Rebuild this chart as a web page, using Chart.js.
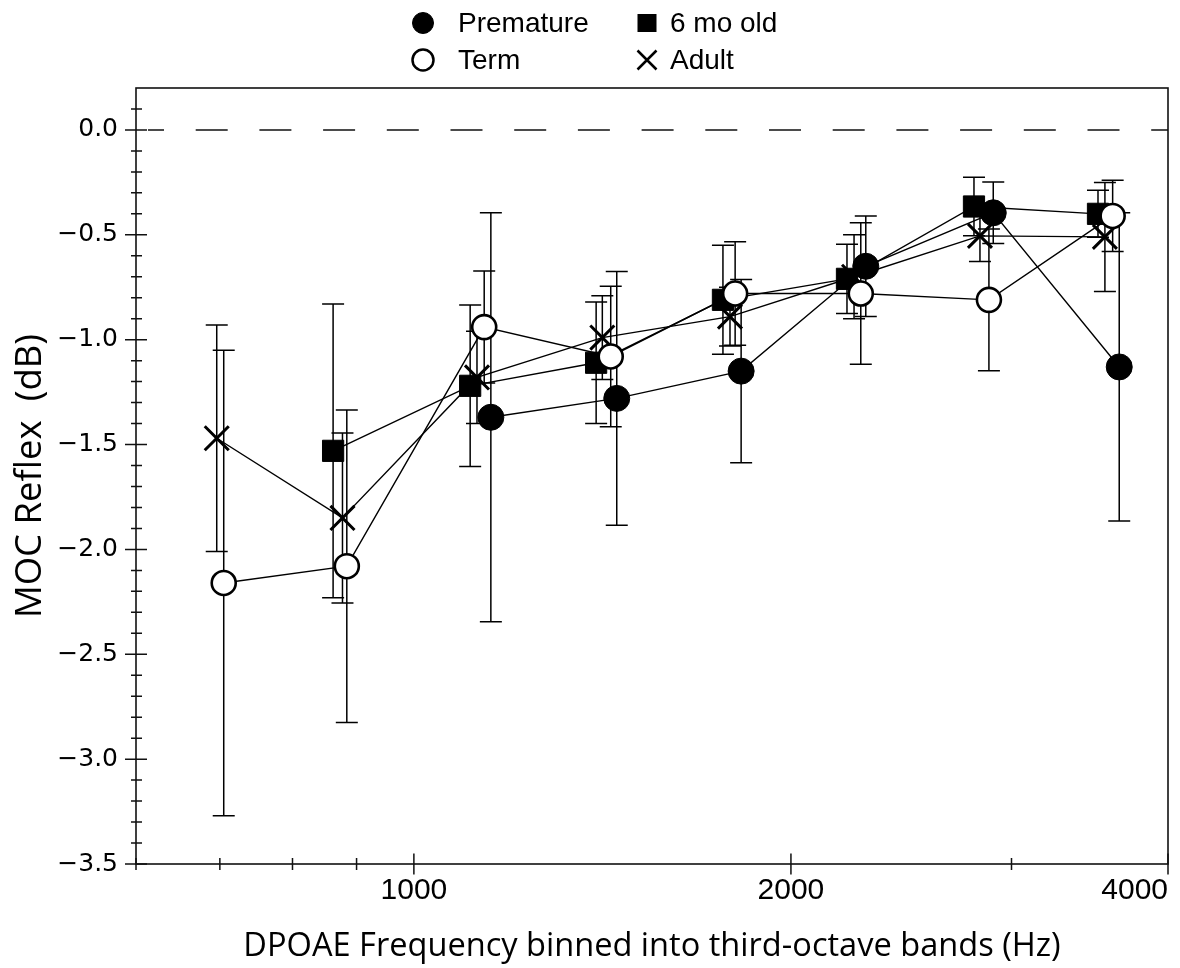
<!DOCTYPE html>
<html>
<head>
<meta charset="utf-8">
<script src="https://cdn.jsdelivr.net/npm/chart.js@4.4.1/dist/chart.umd.min.js"></script>
<style>
  html, body { margin: 0; padding: 0; background: #fff; }
  #wrap { width: 1180px; height: 968px; position: relative; }
</style>
</head>
<body>
<div id="wrap"><canvas id="c" width="1180" height="968"></canvas></div>
<script>
// ---- data ----
const seriesNames = ['Premature', 'Term', '6 mo old', 'Adult'];

const freqPremature = [1152, 1452, 1825, 2295, 2901, 3657];
const mocPremature  = [-1.37, -1.28, -1.15, -0.65, -0.395, -1.13];
const errPremature  = [0.975, 0.605, 0.437, 0.24, 0.147, 0.735];

const freqTerm = [705, 884, 1138, 1436, 1805, 2274, 2878, 3613];
const mocTerm  = [-2.16, -2.08, -0.94, -1.08, -0.78, -0.78, -0.81, -0.41];
const errTerm  = [1.11, 0.745, 0.267, 0.335, 0.247, 0.337, 0.338, 0.17];

const freq6mo = [862, 1109, 1398, 1765, 2217, 2800, 3517];
const moc6mo  = [-1.53, -1.22, -1.11, -0.81, -0.71, -0.365, -0.40];
const err6mo  = [0.70, 0.385, 0.29, 0.26, 0.165, 0.14, 0.112];

const freqAdult = [696, 877, 1123, 1414, 1788, 2246, 2831, 3562];
const mocAdult  = [-1.47, -1.85, -1.18, -0.99, -0.89, -0.70, -0.505, -0.51];
const errAdult  = [0.54, 0.405, 0.22, 0.20, 0.14, 0.20, 0.122, 0.26];

const xTickValues = [600, 700, 800, 900, 1000, 2000, 3000, 4000];
const xTickLabels = [1000, 2000, 4000];
const yMajorTicks = [-3.5, -3.0, -2.5, -2.0, -1.5, -1.0, -0.5, 0.0];
const zeroLevel = 0;

const xTitle = 'DPOAE Frequency binned into third-octave bands (Hz)';
const yTitle = 'MOC Reflex  (dB)';

// ---- helpers ----
function pts(xs, ys) { return xs.map((x, i) => ({ x: x, y: ys[i] })); }
const yMinorTicks = [];
for (let k = -34; k <= 1; k++) { if (k % 5 !== 0) yMinorTicks.push(k / 10); }

const datasets = [
  { label: seriesNames[0], data: pts(freqPremature, mocPremature), errors: errPremature,
    pointStyle: 'circle', pointRadius: 13, pointBackgroundColor: '#000', pointBorderColor: '#000',
    pointBorderWidth: 1, order: 1 },
  { label: seriesNames[1], data: pts(freqTerm, mocTerm), errors: errTerm,
    pointStyle: 'circle', pointRadius: 12, pointBackgroundColor: '#fff', pointBorderColor: '#000',
    pointBorderWidth: 2.6, order: 0 },
  { label: seriesNames[2], data: pts(freq6mo, moc6mo), errors: err6mo,
    pointStyle: 'rect', pointRadius: 15, pointBackgroundColor: '#000', pointBorderColor: '#000',
    pointBorderWidth: 1, order: 2 },
  { label: seriesNames[3], data: pts(freqAdult, mocAdult), errors: errAdult,
    pointStyle: 'crossRot', pointRadius: 17, pointBackgroundColor: '#000', pointBorderColor: '#000',
    pointBorderWidth: 3, order: 3 }
].map(d => Object.assign({ showLine: true, borderColor: '#000', borderWidth: 1.4,
  backgroundColor: '#000', fill: false, tension: 0, pointHoverRadius: 0 }, d));

// legend grid: column marker x, text x, row y
const legendLayout = [
  { ds: 0, x: 423, tx: 458, y: 23 }, { ds: 2, x: 647, tx: 670, y: 23 },
  { ds: 1, x: 423, tx: 458, y: 60 }, { ds: 3, x: 647, tx: 670, y: 60 }
];

const decorPlugin = {
  id: 'decor',
  beforeDatasetsDraw(chart) {
    const { ctx, chartArea: ca, scales: { x, y } } = chart;
    ctx.save();
    // zero reference line
    const y0 = y.getPixelForValue(zeroLevel);
    ctx.strokeStyle = '#111';
    ctx.lineWidth = 1.5;
    ctx.setLineDash([32, 31.7]);
    ctx.lineDashOffset = 16;
    ctx.beginPath();
    ctx.moveTo(ca.left + 12, y0);
    ctx.lineTo(ca.right, y0);
    ctx.stroke();
    ctx.setLineDash([]);
    // error bars
    ctx.strokeStyle = '#000';
    ctx.lineWidth = 1.5;
    chart.data.datasets.forEach((ds, i) => {
      const meta = chart.getDatasetMeta(i);
      meta.data.forEach((el, j) => {
        const v = ds.data[j].y, e = ds.errors[j];
        const px = el.x;
        const yt = y.getPixelForValue(v + e), yb = y.getPixelForValue(v - e);
        ctx.beginPath();
        ctx.moveTo(px, yt); ctx.lineTo(px, yb);
        ctx.moveTo(px - 11, yt); ctx.lineTo(px + 11, yt);
        ctx.moveTo(px - 11, yb); ctx.lineTo(px + 11, yb);
        ctx.stroke();
      });
    });
    ctx.restore();
  },
  afterDraw(chart) {
    const { ctx, chartArea: ca, scales: { x, y } } = chart;
    ctx.save();
    ctx.strokeStyle = '#111';
    ctx.lineWidth = 1.6;
    ctx.strokeRect(ca.left, ca.top, ca.right - ca.left, ca.bottom - ca.top);
    // y ticks (crossing the axis)
    ctx.lineWidth = 1.5;
    ctx.beginPath();
    yMajorTicks.forEach(v => { const p = y.getPixelForValue(v); ctx.moveTo(ca.left - 11, p); ctx.lineTo(ca.left + 11, p); });
    yMinorTicks.forEach(v => { const p = y.getPixelForValue(v); ctx.moveTo(ca.left - 5, p); ctx.lineTo(ca.left + 6, p); });
    // x ticks
    xTickValues.forEach(v => {
      const p = x.getPixelForValue(v);
      const major = xTickLabels.includes(v);
      const h = major ? 10.5 : 6;
      ctx.moveTo(p, ca.bottom - h); ctx.lineTo(p, ca.bottom + h);
    });
    ctx.stroke();
    // legend
    ctx.font = '28px "Liberation Sans", Arial, sans-serif';
    ctx.textBaseline = 'middle';
    legendLayout.forEach(item => {
      const ds = chart.data.datasets[item.ds];
      ctx.fillStyle = ds.pointBackgroundColor;
      ctx.strokeStyle = '#000';
      ctx.lineWidth = ds.pointStyle === 'circle' && ds.pointBackgroundColor === '#fff' ? 2.5 : 1;
      ctx.beginPath();
      if (ds.pointStyle === 'circle') {
        ctx.arc(item.x, item.y, 10.5, 0, Math.PI * 2); ctx.fill(); ctx.stroke();
      } else if (ds.pointStyle === 'rect') {
        ctx.fillRect(item.x - 9.5, item.y - 9, 19, 18);
      } else {
        const d = 9.5;
        ctx.lineWidth = 2.5;
        ctx.moveTo(item.x - d, item.y - d); ctx.lineTo(item.x + d, item.y + d);
        ctx.moveTo(item.x + d, item.y - d); ctx.lineTo(item.x - d, item.y + d);
        ctx.stroke();
      }
      ctx.fillStyle = '#000';
      ctx.fillText(ds.label, item.tx, item.y + 1);
    });
    ctx.restore();
  }
};

new Chart(document.getElementById('c'), {
  type: 'scatter',
  data: { datasets: datasets },
  plugins: [decorPlugin],
  options: {
    responsive: false,
    animation: false,
    events: [],
    layout: { autoPadding: false, padding: { top: 88, right: 12, left: 0, bottom: 0 } },
    plugins: { legend: { display: false }, tooltip: { enabled: false } },
    scales: {
      x: {
        type: 'logarithmic', min: 600, max: 4000,
        afterBuildTicks: s => { s.ticks = xTickValues.map(v => ({ value: v })); },
        afterFit: s => { s.height = 104; s.paddingLeft = 0; s.paddingRight = 0; },
        grid: { display: false, drawTicks: false },
        border: { display: false },
        ticks: {
          autoSkip: false, maxRotation: 0, minRotation: 0, align: 'inner',
          padding: 9, color: '#000',
          font: { family: '"Liberation Sans", Arial, sans-serif', size: 30 },
          callback: v => xTickLabels.includes(v) ? String(v) : ''
        },
        title: {
          display: true, text: xTitle, align: 'center', color: '#000',
          font: { family: '"Open Sans", sans-serif', size: 32.6 },
          padding: { top: 0, bottom: 2 }
        }
      },
      y: {
        type: 'linear', min: -3.5, max: 0.2,
        afterBuildTicks: s => { s.ticks = yMajorTicks.map(v => ({ value: v })); },
        afterFit: s => { s.width = 136; },
        grid: { display: false, drawTicks: false },
        border: { display: false },
        ticks: {
          padding: 18, color: '#000',
          font: { family: '"DejaVu Sans", sans-serif', size: 25 },
          callback: v => Number(v).toFixed(1).replace('-', '\u2212')
        },
        title: {
          display: true, text: yTitle, color: '#000',
          font: { family: '"Open Sans", sans-serif', size: 36.5 },
          padding: { top: 9, bottom: 0 }
        }
      }
    }
  }
});
</script>
</body>
</html>
